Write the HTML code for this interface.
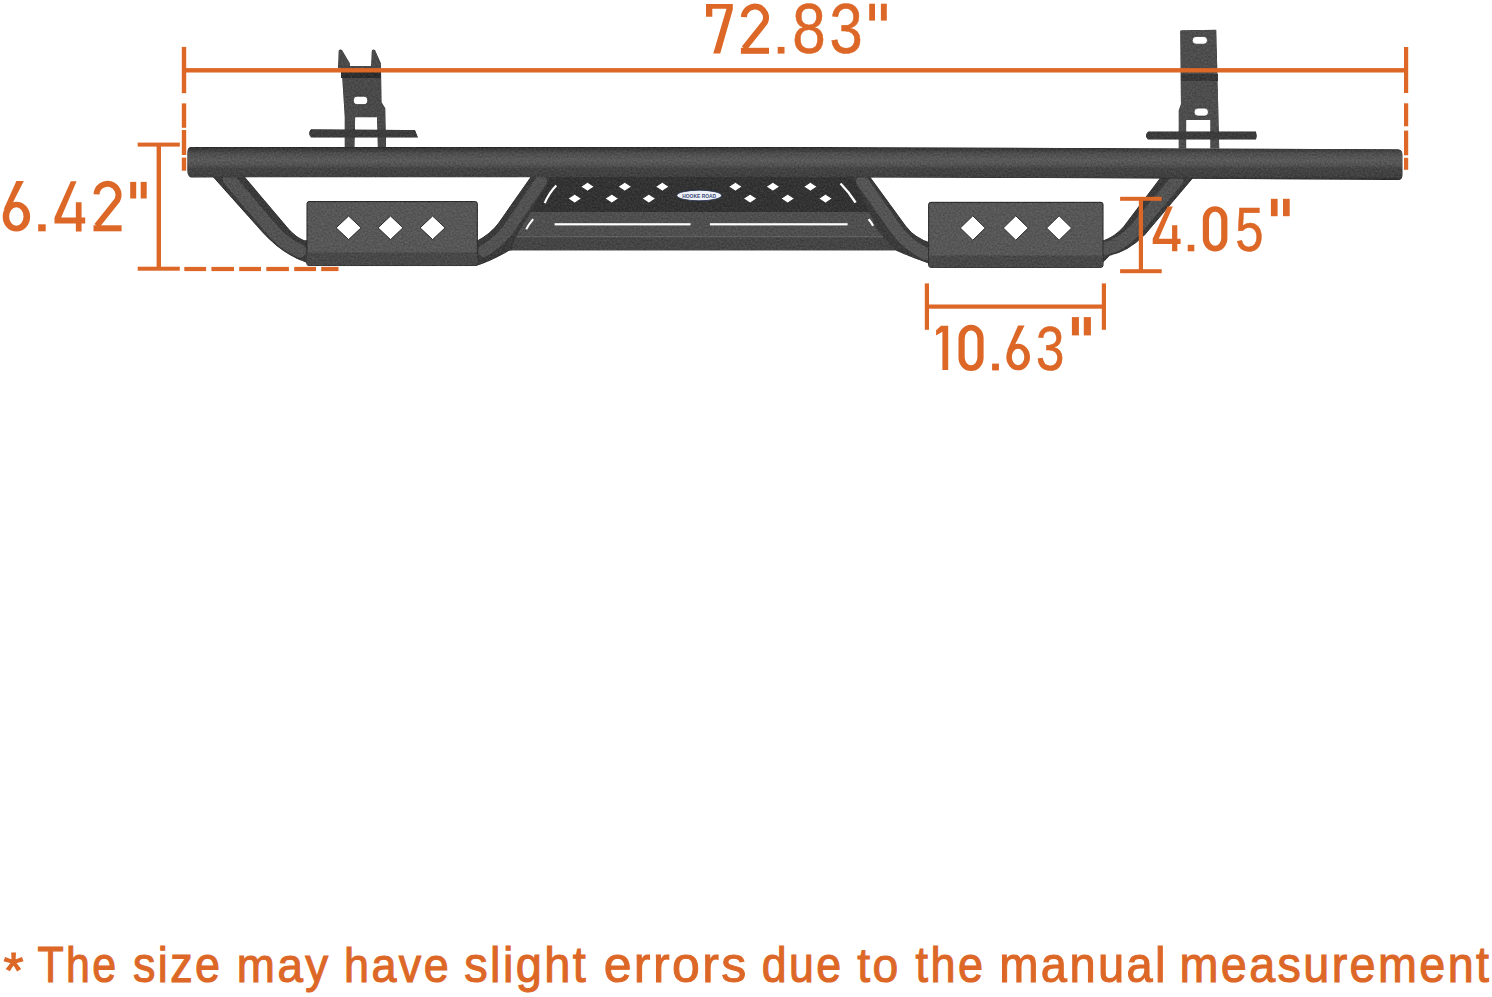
<!DOCTYPE html>
<html><head><meta charset="utf-8">
<style>
html,body{margin:0;padding:0;background:#fff;width:1492px;height:997px;overflow:hidden}
svg{display:block}
text{font-family:"Liberation Sans",sans-serif}
</style></head>
<body>
<svg width="1492" height="997" viewBox="0 0 1492 997">
<defs>
<linearGradient id="tube" x1="0" y1="0" x2="0" y2="1">
<stop offset="0" stop-color="#262626"/>
<stop offset="0.05" stop-color="#383838"/>
<stop offset="0.1" stop-color="#3e3e3e"/>
<stop offset="0.2" stop-color="#4e4e4e"/>
<stop offset="0.4" stop-color="#5a5a5a"/>
<stop offset="0.55" stop-color="#525252"/>
<stop offset="0.65" stop-color="#444444"/>
<stop offset="0.9" stop-color="#404040"/>
<stop offset="1" stop-color="#2a2a2a"/>
</linearGradient>
<filter id="tex" x="0" y="0" width="100%" height="100%" color-interpolation-filters="sRGB">
<feTurbulence type="fractalNoise" baseFrequency="0.55" numOctaves="2" seed="7" result="n"/>
<feColorMatrix in="n" type="matrix" values="1 0 0 0 0  1 0 0 0 0  1 0 0 0 0  0 0 0 0 1" result="g"/>
<feComposite in="g" in2="SourceAlpha" operator="in" result="gm"/>
<feComposite in="gm" in2="SourceGraphic" operator="arithmetic" k1="0" k2="0.16" k3="1" k4="-0.08"/>
</filter>
</defs>
<rect width="1492" height="997" fill="#fff"/>

<!-- ===== PRODUCT ===== -->
<g id="product" filter="url(#tex)">
<!-- left bracket -->
<g fill="#4a4a4a">
<path d="M338,68 L338.7,50.5 Q340,49 342,50 L350,63.5 L350,68 Z"/>
<path d="M371,68 L371.8,50.5 Q373,49 375,50 L381,63.5 L381,68 Z"/>
<path d="M338,66 L381,66 L381.6,102.2 L385.3,108.3 L386.1,147.5 L377.8,147.5 L377,117.3 L355.2,117.3 L354.5,147.5 L344.7,147.5 L344.7,117 L341.7,70 Z"/>
<path d="M311,129.3 L415,130 L418,137.6 L311,137.6 Q307,133.5 311,129.3 Z" fill="#3c3c3c"/>
</g>
<rect x="341" y="72" width="40" height="6" fill="#2e2e2e"/>
<!-- right bracket -->
<g fill="#4d4d4d">
<path d="M1180.2,31 Q1180.5,30.3 1182,30.3 L1216.3,29.8 L1218.6,119.3 L1219.3,148.5 L1210.3,148.5 L1210.3,120.1 L1186.2,120.1 L1186.2,148.5 L1178.7,148.5 L1178.7,110.3 L1180.9,104.3 Z"/>
<path d="M1148,131.4 L1256,131.4 Q1257.5,135.5 1256,139.6 L1148,139.6 Q1144,135.5 1148,131.4 Z" fill="#3c3c3c"/>
</g>
<rect x="1181" y="74" width="37" height="7" fill="#383838"/>

<!-- left leg -->
<path d="M212,176 L244.1,176 L288.3,228.2 Q296,237 304.3,240.2 L310,240.2 L310,263 L306,262.5 Q283,255 262,232 Z" fill="#3a3a3a"/>
<path d="M229,179 L268,225 Q282,243 300,251" fill="none" stroke="#535353" stroke-width="13" stroke-linecap="round"/>

<!-- middle structure: plates -->
<path d="M540,176 L862,176 L878,212.1 L515,212.1 Z" fill="#333"/>
<path d="M515,212.1 L878,212.1 L895.2,250.2 L505,250.2 Z" fill="#4f4f4f"/>
<rect x="512" y="236" width="372" height="1.4" fill="#606060"/>
<path d="M505,237.4 L888,237.4 L895.2,250.2 L505,250.2 Z" fill="#454545"/>
<!-- left middle diagonal tube -->
<path d="M531.2,176 L552,176 L519,231.5 Q513,242 512,250.2 L510.1,250.2 Q492,261 476,266 L476,241.2 Q490,234 498.1,223.2 Z" fill="#3a3a3a"/>
<path d="M541,181 L510,227 Q501,240 484,251" fill="none" stroke="#525252" stroke-width="12" stroke-linecap="round"/>
<!-- right middle diagonal tube -->
<path d="M852,176 L869.6,176 L906.2,226.2 Q915,238 932,243.2 L932,265 L925.3,262.3 Q910,257 895.2,250.2 L878,231 Z" fill="#3a3a3a"/>
<path d="M862,181 L895,228 Q907,245 926,254" fill="none" stroke="#555" stroke-width="12" stroke-linecap="round"/>

<!-- right leg -->
<path d="M1161.5,176 L1194.8,176 L1145.2,234.8 Q1128,252 1110,255.6 L1099.6,266 L1100,240 L1104.1,240 Q1115,236 1123,227 Z" fill="#3a3a3a"/>
<path d="M1177,180 L1136,229 Q1122,245 1104,249" fill="none" stroke="#535353" stroke-width="13" stroke-linecap="round"/>

<!-- main tube -->
<path d="M191,146.9 L800,146.9 L1398,149.3 Q1402.5,149.5 1402.5,155 L1402.5,175 Q1402.5,180 1398,180 L1100,178.2 L700,177 L191,177.4 Q187.3,177 187.3,170 L187.3,153 Q187.3,147 191,146.9 Z" fill="url(#tube)"/>

<!-- step plates -->
<rect x="307" y="201.6" width="170.3" height="64" rx="2" fill="#575757" stroke="#2c2c2c" stroke-width="1"/>
<rect x="306.5" y="252.5" width="171" height="13.1" rx="2" fill="#484848"/>
<rect x="928.7" y="202.3" width="174.3" height="65" rx="2" fill="#575757" stroke="#2c2c2c" stroke-width="1"/>
<rect x="929.2" y="255.6" width="173.3" height="11.5" rx="2" fill="#484848"/>
</g>

<g id="holes" fill="#fff">
<rect x="353.4" y="96.3" width="14.3" height="8.3" rx="4.1" stroke="#2a2a2a" stroke-width="0.7"/>
<rect x="1192.2" y="36.4" width="15.3" height="7.8" rx="3.9" stroke="#2a2a2a" stroke-width="0.7"/>
<rect x="1194" y="108.1" width="14.5" height="8" rx="4" stroke="#2a2a2a" stroke-width="0.7"/>
<g stroke="#2a2a2a" stroke-width="1">
<path d="M348.6,216 L361.1,227.8 L348.6,239.6 L336.1,227.8 Z"/>
<path d="M390.5,216 L403,227.8 L390.5,239.6 L378,227.8 Z"/>
<path d="M432.6,216 L445.1,227.8 L432.6,239.6 L420.1,227.8 Z"/>
<path d="M972.8,215.8 L985.3,228 L972.8,240.2 L960.3,228 Z"/>
<path d="M1015.8,215.8 L1028.3,228 L1015.8,240.2 L1003.3,228 Z"/>
<path d="M1059.1,215.8 L1071.6,228 L1059.1,240.2 L1046.6,228 Z"/>
</g>
<g stroke="#222" stroke-width="0.8">
<path d="M587.5,182.3 L594.2,186.7 L587.5,191.1 L580.8,186.7 Z"/>
<path d="M624.8,182.3 L631.5,186.7 L624.8,191.1 L618.1,186.7 Z"/>
<path d="M662.3,182.3 L669,186.7 L662.3,191.1 L655.6,186.7 Z"/>
<path d="M735.4,182.3 L742.1,186.7 L735.4,191.1 L728.7,186.7 Z"/>
<path d="M772.9,182.3 L779.6,186.7 L772.9,191.1 L766.2,186.7 Z"/>
<path d="M810.4,182.3 L817.1,186.7 L810.4,191.1 L803.7,186.7 Z"/>
<path d="M574.7,194.2 L581.4,198.6 L574.7,203 L568,198.6 Z"/>
<path d="M611.8,194.2 L618.5,198.6 L611.8,203 L605.1,198.6 Z"/>
<path d="M648.9,194.2 L655.6,198.6 L648.9,203 L642.2,198.6 Z"/>
<path d="M750.1,194.2 L756.8,198.6 L750.1,203 L743.4,198.6 Z"/>
<path d="M787.7,194.2 L794.4,198.6 L787.7,203 L781,198.6 Z"/>
<path d="M825.5,194.2 L832.2,198.6 L825.5,203 L818.8,198.6 Z"/>
</g>
<rect x="554.6" y="223.2" width="135.9" height="2.2"/>
<rect x="709.9" y="223.2" width="137.7" height="2.2"/>
<g fill="none" stroke="#fff">
<path d="M556.3,185.5 Q549,193 544.7,203.1" stroke-width="2.2"/>
<path d="M533.2,219.1 Q529,224 526.2,229.2" stroke-width="2"/>
<path d="M840.5,183.5 Q849,192 855.6,202.6" stroke-width="2.4"/>
<path d="M868.6,219.1 Q871,222 873.1,225.7" stroke-width="2.2"/>
</g>
<ellipse cx="699.2" cy="195.5" rx="22.4" ry="5.3" fill="#eef1f6" stroke="#1a2a4a" stroke-width="0.8"/>
<text x="699.2" y="197.6" font-size="6" font-weight="bold" text-anchor="middle" fill="#3a4a76" textLength="34" lengthAdjust="spacingAndGlyphs">HOOKE ROAD</text>
</g>

<!-- ===== ORANGE DIMENSIONS ===== -->
<g fill="#DC6727">
<!-- top line -->
<rect x="184" y="68.1" width="1222" height="4.4"/>
<rect x="181.8" y="46.9" width="4.4" height="46.3"/>
<rect x="181.8" y="103.4" width="4.4" height="24.4"/>
<rect x="181.8" y="130" width="4.4" height="25"/>
<rect x="181.8" y="157.6" width="4.4" height="13.1"/>
<rect x="1404" y="47" width="4.2" height="46"/>
<rect x="1404" y="103.3" width="4.2" height="23"/>
<rect x="1404" y="130.6" width="4.2" height="24.7"/>
<rect x="1404" y="157.8" width="4.2" height="12"/>
<!-- 6.42 bracket -->
<rect x="156.6" y="144.3" width="4.4" height="124.9"/>
<rect x="137.7" y="142.6" width="42.1" height="4"/>
<rect x="137.7" y="266.7" width="42.1" height="4"/>
<rect x="184.3" y="266.9" width="21.8" height="4.2"/>
<rect x="211.4" y="266.9" width="22.6" height="4.2"/>
<rect x="239.2" y="266.9" width="21.8" height="4.2"/>
<rect x="266.3" y="266.9" width="22.6" height="4.2"/>
<rect x="294.2" y="266.9" width="21.8" height="4.2"/>
<rect x="321.2" y="266.9" width="17.3" height="4.2"/>
<!-- 4.05 bracket -->
<rect x="1138.8" y="198.8" width="4.2" height="72.4"/>
<rect x="1120.1" y="196.8" width="41.6" height="4"/>
<rect x="1120.1" y="269.2" width="41.6" height="4"/>
<!-- 10.63 bracket -->
<rect x="924.8" y="283.4" width="4.2" height="46.4"/>
<rect x="1101.8" y="283.4" width="4.2" height="46.4"/>
<rect x="926.9" y="304.5" width="177" height="4.2"/>
<!-- quote marks -->
<rect x="869.2" y="3.7" width="5.8" height="16.9"/>
<rect x="880.9" y="3.7" width="5.9" height="16.9"/>
<rect x="130.2" y="181.9" width="6" height="16.6"/>
<rect x="140.7" y="181.9" width="6" height="16.6"/>
<rect x="1270.9" y="198.8" width="6.7" height="17.4"/>
<rect x="1283" y="198.8" width="6.7" height="17.4"/>
<rect x="1071.9" y="317.1" width="7" height="18.3"/>
<rect x="1083.8" y="317.1" width="7.1" height="18.3"/>
</g>

<g fill="#DC6727">
<path d="M941,325.8 L948.2,325.8 L948.2,369.9 L942.4,369.9 L942.4,331.8 L936.1,335.6 L936.1,330.2 Z"/>
<path d="M706.00,4.00 L732.80,4.00 L732.80,9.40 L720.20,53.60 L713.24,53.60 L726.50,8.80 L712.30,8.80 L712.30,16.80 L706.00,16.80 Z"/>
<path d="M743.90,17.05 A11.05,11.05 0 1,1 764.71,22.74 L744.20,48.30" fill="none" stroke="#DC6727" stroke-width="6.0" stroke-linejoin="round"/><rect x="740.90" y="47.80" width="28.10" height="6.00"/>
<rect x="777.70" y="46.90" width="6.80" height="6.70"/>
<text transform="translate(792.34,53.06) scale(0.6010,0.7048)" font-size="100.0" stroke="#DC6727" stroke-width="0.766">8</text>
<text transform="translate(829.48,53.26) scale(0.5969,0.7034)" font-size="100.0" stroke="#DC6727" stroke-width="0.769">3</text>
<path fill-rule="evenodd" d="M2.70,216.67 A13.70,14.93 0 1,1 30.10,216.67 A13.70,14.93 0 1,1 2.70,216.67 Z M9.14,216.55 A7.19,9.23 0 1,0 23.52,216.55 A7.19,9.23 0 1,0 9.14,216.55 Z"/><path d="M16.40,181.00 L23.80,181.00 L12.02,204.28 L3.52,209.84 Z"/>
<rect x="38.20" y="224.30" width="7.50" height="7.00"/>
<path d="M70.83,181.30 L76.60,181.30 L61.16,217.52 L85.20,217.52 L85.20,223.45 L54.50,223.45 L54.50,217.52 Z M75.84,202.28 L81.58,202.28 L81.58,231.60 L75.84,231.60 Z"/>
<path d="M96.50,194.35 A11.05,11.05 0 1,1 117.31,200.04 L96.80,225.80" fill="none" stroke="#DC6727" stroke-width="6.0" stroke-linejoin="round"/><rect x="93.50" y="225.30" width="28.10" height="6.00"/>
<path d="M1167.54,206.60 L1172.79,206.60 L1158.75,238.78 L1180.60,238.78 L1180.60,244.06 L1152.70,244.06 L1152.70,238.78 Z M1172.09,225.24 L1177.31,225.24 L1177.31,251.30 L1172.09,251.30 Z"/>
<rect x="1187.70" y="244.80" width="6.60" height="6.50"/>
<path fill-rule="evenodd" d="M1202.80,219.02 A12.30,12.92 0 0,1 1227.40,219.02 L1227.40,238.58 A12.30,12.92 0 0,1 1202.80,238.58 Z M1209.00,219.43 A6.10,7.63 0 0,1 1221.20,219.43 L1221.20,238.17 A6.10,7.63 0 0,1 1209.00,238.17 Z"/>
<text transform="translate(1235.21,250.64) scale(0.5083,0.6292)" font-size="100.0" stroke="#DC6727" stroke-width="0.879">5</text>
<path fill-rule="evenodd" d="M958.50,337.98 A12.55,13.18 0 0,1 983.60,337.98 L983.60,357.82 A12.55,13.18 0 0,1 958.50,357.82 Z M964.70,338.44 A6.35,7.94 0 0,1 977.40,338.44 L977.40,357.36 A6.35,7.94 0 0,1 964.70,357.36 Z"/>
<rect x="992.10" y="363.60" width="6.80" height="6.80"/>
<path fill-rule="evenodd" d="M1006.30,357.05 A11.85,13.25 0 1,1 1030.00,357.05 A11.85,13.25 0 1,1 1006.30,357.05 Z M1011.87,356.94 A6.22,8.19 0 1,0 1024.31,356.94 A6.22,8.19 0 1,0 1011.87,356.94 Z"/><path d="M1018.15,325.40 L1024.55,325.40 L1014.36,346.05 L1007.01,350.99 Z"/>
<text transform="translate(1036.11,369.73) scale(0.5104,0.6313)" font-size="100.0" stroke="#DC6727" stroke-width="0.876">3</text>
<text transform="translate(3.57,988.00) scale(0.9996,0.952)" font-size="51.50" stroke="#DC6727" stroke-width="1.200">*</text>
<text transform="translate(37.54,982.40) scale(0.8324,0.952)" font-size="51.50" letter-spacing="2.883" stroke="#DC6727" stroke-width="1.201">The</text>
<text transform="translate(132.95,982.40) scale(0.8718,0.952)" font-size="51.50" letter-spacing="2.753" stroke="#DC6727" stroke-width="1.147">size</text>
<text transform="translate(236.86,982.40) scale(0.8894,0.952)" font-size="51.50" letter-spacing="2.698" stroke="#DC6727" stroke-width="1.124">may</text>
<text transform="translate(343.98,982.40) scale(0.8732,0.952)" font-size="51.50" letter-spacing="2.748" stroke="#DC6727" stroke-width="1.145">have</text>
<text transform="translate(464.19,982.40) scale(0.9120,0.952)" font-size="51.50" letter-spacing="2.631" stroke="#DC6727" stroke-width="1.096">slight</text>
<text transform="translate(603.68,982.40) scale(0.9706,0.952)" font-size="51.50" letter-spacing="2.473" stroke="#DC6727" stroke-width="1.030">errors</text>
<text transform="translate(761.83,982.40) scale(0.8665,0.952)" font-size="51.50" letter-spacing="2.770" stroke="#DC6727" stroke-width="1.154">due</text>
<text transform="translate(857.30,982.40) scale(0.8998,0.952)" font-size="51.50" letter-spacing="2.667" stroke="#DC6727" stroke-width="1.111">to</text>
<text transform="translate(915.62,982.40) scale(0.8741,0.952)" font-size="51.50" letter-spacing="2.746" stroke="#DC6727" stroke-width="1.144">the</text>
<text transform="translate(999.28,982.40) scale(0.9133,0.952)" font-size="51.50" letter-spacing="2.628" stroke="#DC6727" stroke-width="1.095">manual</text>
<text transform="translate(1179.50,982.40) scale(0.9069,0.952)" font-size="51.50" letter-spacing="2.646" stroke="#DC6727" stroke-width="1.103">measurement</text>
</g>
</svg>
</body></html>
